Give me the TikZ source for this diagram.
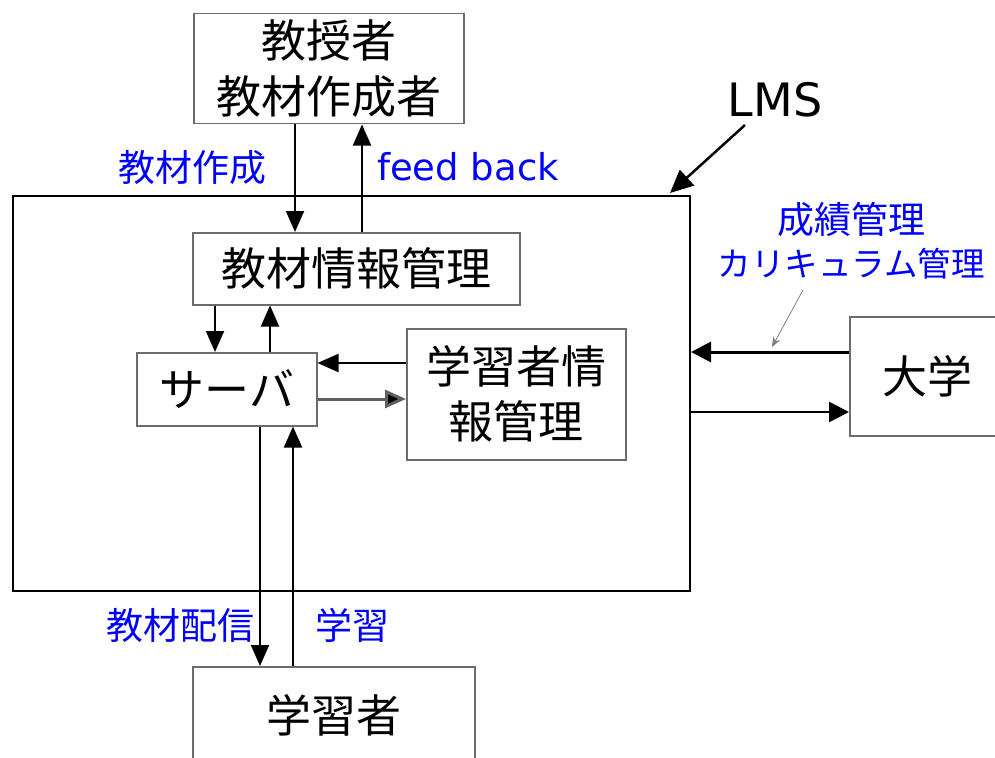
\documentclass[tikz,border=0pt]{standalone}
\usepackage{fontspec}
\setmainfont{DejaVu Sans}
\newfontfamily\jp{Noto Sans CJK JP}
\usetikzlibrary{arrows.meta,calc}
\begin{document}
\begin{tikzpicture}[x=1pt,y=-1pt,
  box/.style={draw=gray!85!black, line width=1.5pt, anchor=north west, inner sep=0pt, align=center, font=\jp\fontsize{45}{56}\selectfont},
  lbl/.style={text=blue, inner sep=0pt, align=center, font=\jp\fontsize{37}{43}\selectfont},
  arr/.style={line width=2pt, -{Triangle[length=21pt,width=18pt]}}]
\useasboundingbox (0,0) rectangle (995,757);
% boxes
\node[draw, line width=2pt, anchor=north west, minimum width=677pt, minimum height=395pt, inner sep=0pt] (lms) at (12,195) {};
\node[box, minimum width=270pt, minimum height=110pt] (prof) at (193,13) {教授者\\教材作成者};
\node[box, minimum width=327pt, minimum height=72pt] (mat) at (192,232) {教材情報管理};
\node[box, minimum width=180pt, minimum height=73pt] (srv) at (136,352) {サーバ};
\node[box, minimum width=219pt, minimum height=131pt, font=\jp\fontsize{45}{55}\selectfont] (linfo) at (406,328) {学習者情\\報管理};
\node[box, minimum width=156pt, minimum height=119pt] (univ) at (849,316) {大学};
\node[box, minimum width=282pt, minimum height=98pt] (stu) at (192,666) {学習者};
% labels
\node[lbl] (l1) at (192,168) {教材作成};
\node[lbl, font=\fontsize{37}{43}\selectfont] (l2) at (468,167) {feed back};
\node[lbl] (l3) at (851,241) {成績管理\\{\fontsize{33.5}{43}\selectfont カリキュラム管理}};
\node[lbl] (l4) at (180,625) {教材配信};
\node[lbl] (l5) at (352,625) {学習};
\node[inner sep=0pt, font=\fontsize{46}{50}\selectfont] (lmst) at (775,100) {LMS};
% connectors
\draw[arr] (295,0 |- prof.south) -- (295,0 |- mat.north);
\draw[arr] (362,0 |- mat.north) -- (362,0 |- prof.south);
\draw[arr] (215,0 |- mat.south) -- (215,0 |- srv.north);
\draw[arr] (270,0 |- srv.north) -- (270,0 |- mat.south);
\draw[arr] (0,363 -| linfo.west) -- (0,363 -| srv.east);
\draw[arr, draw=gray!75!black, line width=3pt, -{Triangle[length=21pt,width=18pt,fill=black]}] (0,399 -| srv.east) -- (0,399 -| linfo.west);
\draw[arr] (260,0 |- srv.south) -- (260,0 |- stu.north);
\draw[arr] (293,0 |- stu.north) -- (293,0 |- srv.south);
\draw[arr, line width=3pt, -{Triangle[length=20pt,width=20pt]}] (0,352 -| univ.west) -- (0,352 -| lms.east);
\draw[arr, line width=2.5pt, -{Triangle[length=20pt,width=20pt]}] (0,412 -| lms.east) -- (0,412 -| univ.west);
\coordinate (lmsfrom) at (745,125);
\draw[arr, line width=2.5pt, -{Triangle[length=23pt,width=21pt]}] (lmsfrom) -- ($(lms.north east)+(-21,-2)$);
\coordinate (callfrom) at (803,290);
\coordinate (callto) at (772,347);
\draw[draw=gray, line width=0.8pt, -{Stealth[length=10pt,width=8pt]}] (callfrom) -- (callto);
\end{tikzpicture}
\end{document}
